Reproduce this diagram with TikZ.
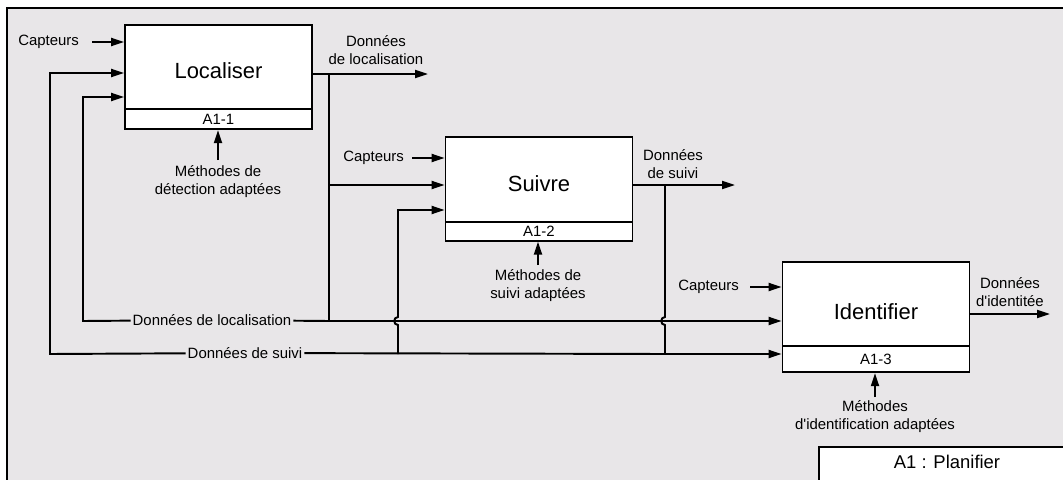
\documentclass[tikz,border=0pt]{standalone}
\usepackage{fontspec}
\setmainfont{Liberation Sans}
\usetikzlibrary{arrows.meta,positioning}
\definecolor{framebg}{RGB}{232,230,232}

\begin{document}
\begin{tikzpicture}[x=0.02cm,y=-0.02cm,
    actbox/.style={draw, line width=1pt, fill=white, minimum width=3.74cm, minimum height=1.69cm, inner sep=0pt, text height=13.6pt, text depth=0pt, font=\fontsize{12.5}{15}\selectfont},
    idbox/.style={draw, line width=1pt, fill=white, minimum width=3.74cm, inner sep=0pt, font=\fontsize{8.5}{10.2}\selectfont},
    lbl/.style={inner sep=1pt, align=center, font=\fontsize{8.5}{10.2}\selectfont},
    wire/.style={line width=1.1pt},
    flow/.style={wire, -{Triangle[length=2.6mm,width=1.6mm]}}]
    \useasboundingbox (0,0) rectangle (1063,480);
    % Frame
    \draw[line width=1pt, fill=framebg] (7,8) rectangle (1080,500);
    \draw[line width=1pt, fill=white] (819,447) rectangle (1080,500);
    \node[font=\fontsize{10.5}{12}\selectfont] (plan) at (947,462) {A1 : Planifier};

    % Activities
    \node[actbox] (loc) at (218.5,67) {Localiser};
    \node[idbox, minimum height=0.4cm, below=-1pt of loc] (locid) {A1-1};
    \node[actbox] (sui) at (539,179.5) {Suivre};
    \node[idbox, minimum height=0.38cm, below=-1pt of sui] (suiid) {A1-2};
    \node[actbox, text height=17.5pt] (ide) at (876,304) {Identifier};
    \node[idbox, minimum height=0.52cm, below=-1pt of ide] (ideid) {A1-3};

    % Labels
    \node[lbl, anchor=east] (capA) at (81,42) {Capteurs};
    \node[lbl, anchor=east] (capB) at (406,158) {Capteurs};
    \node[lbl, anchor=east] (capC) at (741,287) {Capteurs};
    \node[lbl] (outA) at (376,50) {Données\\de localisation};
    \node[lbl] (outB) at (673,164) {Données\\de suivi};
    \node[lbl] (outC) at (1010,292) {Données\\d\textquotesingle identitée};
    \node[lbl] (metA) at (218,182) {Méthodes de\\détection adaptées};
    \node[lbl] (metB) at (538,286) {Méthodes de\\suivi adaptées};
    \node[lbl] (metC) at (875,417) {Méthodes\\d\textquotesingle identification adaptées};
    \node[lbl] (dloc) at (212,320) {Données de localisation};
    \node[lbl] (dsuivi) at (245,353) {Données de suivi};

    % Points
    \coordinate (inA) at (92,42);
    \coordinate (inB) at (412,158);
    \coordinate (inC) at (750,287);
    \coordinate (ctlA) at (218,160);
    \coordinate (ctlB) at (538,265);
    \coordinate (ctlC) at (875,397);
    \coordinate (locout) at (428,74);
    \coordinate (suiout) at (735,185);
    \coordinate (ideout) at (1050,314);
    \coordinate (jL) at (329,74);
    \coordinate (jLS) at (329,185);
    \coordinate (jLI) at (329,321);
    \coordinate (jS) at (665,185);
    \coordinate (jSI) at (665,354);
    \coordinate (jS2) at (398,354);
    \coordinate (jS2top) at (398,210);
    \coordinate (fbS) at (50,73);
    \coordinate (cornS) at (50,354);
    \coordinate (fbL) at (83,97);
    \coordinate (cornL) at (83,321);

    % Inputs and controls
    \draw[flow] (inA) -- (inA -| loc.west);
    \draw[flow] (inB) -- (inB -| sui.west);
    \draw[flow] (inC) -- (inC -| ide.west);
    \draw[flow] (ctlA) -- (ctlA |- locid.south);
    \draw[flow] (ctlB) -- (ctlB |- suiid.south);
    \draw[flow] (ctlC) -- (ctlC |- ideid.south);

    % Outputs
    \draw[flow] (locout -| loc.east) -- (locout);
    \draw[flow] (suiout -| sui.east) -- (suiout);
    \draw[flow] (ideout -| ide.east) -- (ideout);

    % Données de localisation
    \draw[wire] (jL) -- (jLI);
    \draw[flow] (jLS) -- (jLS -| sui.west);
    \draw[flow] (jLI) -- (dloc) -- (cornL) -- (fbL) -- (fbL -| loc.west);
    \draw[flow] (jLI) -- (jLI -| ide.west);

    % Données de suivi
    \draw[wire] (jS) -- ++(0,132) .. controls +(-5,0) and +(-5,0) .. ++(0,8) -- (jSI);
    \draw[flow] (jSI) -- (dsuivi) -- (cornS) -- (fbS) -- (fbS -| loc.west);
    \draw[flow] (jSI) -- (jSI -| ide.west);
    \draw[flow] (jS2) -- ++(0,-29) .. controls +(-5,0) and +(-5,0) .. ++(0,-8) -- (jS2top) -- (jS2top -| sui.west);
\end{tikzpicture}
\end{document}
